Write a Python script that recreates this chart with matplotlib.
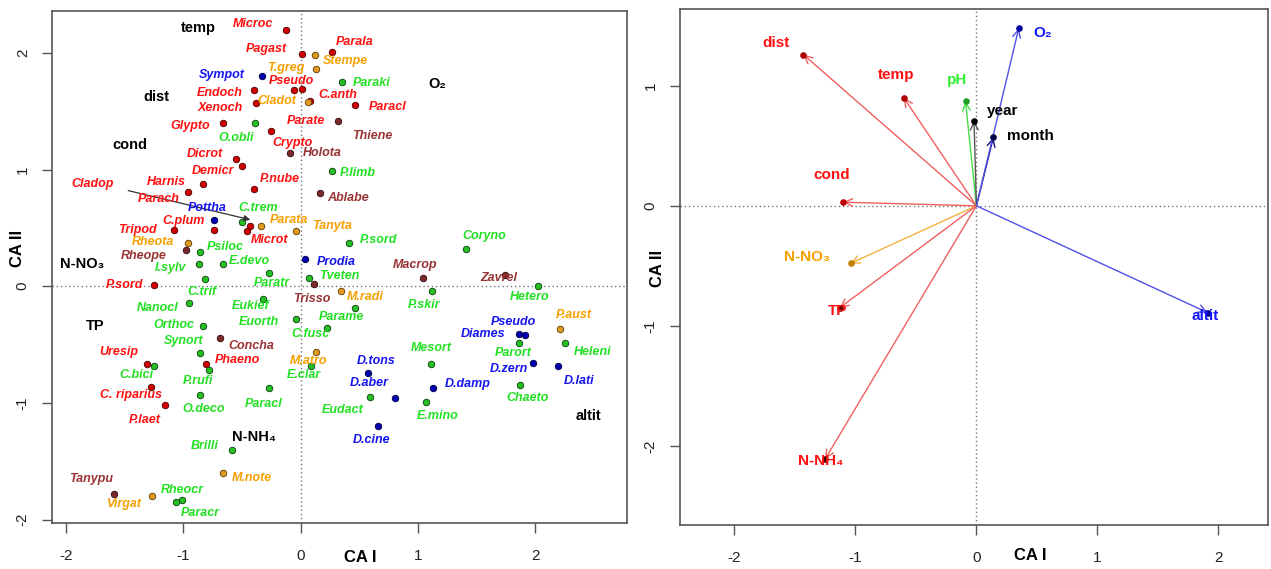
import matplotlib
matplotlib.use("Agg")
import matplotlib.pyplot as plt

plt.rcParams['font.family'] = ['Liberation Sans', 'DejaVu Sans']
plt.rcParams['axes.unicode_minus'] = False

# ---- left panel: species scores, grouped by colour ----
red_x = [-0.13, 0.01, 0.27, -0.06, 0.01, -0.40, 0.08, -0.38, 0.46, -0.66, -0.25, -0.55, -0.50,
         -0.40, -0.83, -0.96, -0.74, -1.08, -0.43, -0.46, -1.25, -1.31, -0.81, -1.28, -1.16]
red_y = [2.20, 1.99, 2.01, 1.68, 1.69, 1.68, 1.59, 1.57, 1.55, 1.40, 1.33, 1.09, 1.03,
         0.83, 0.88, 0.81, 0.48, 0.48, 0.52, 0.47, 0.01, -0.67, -0.67, -0.86, -1.02]
orange_x = [0.12, 0.13, 0.06, -0.34, -0.04, -0.96, 0.34, 0.13, 2.21, -0.66, -1.27]
orange_y = [1.98, 1.86, 1.58, 0.52, 0.47, 0.37, -0.04, -0.56, -0.37, -1.60, -1.80]
green_x = [0.35, -0.39, 0.27, -0.50, -0.86, -0.87, -0.66, -0.27, -0.82, 0.07,
           0.41, 1.41, 1.12, 2.02, -0.95, -0.32, 0.46, -0.83, -0.04, 0.22,
           -0.86, -0.78, -1.25, 0.09, -0.27, -0.86, 1.11, 1.86, 2.25, 1.87,
           0.59, 1.07, -0.59, -1.01, -1.06]
green_y = [1.75, 1.40, 0.99, 0.55, 0.29, 0.19, 0.19, 0.11, 0.06, 0.07,
           0.37, 0.32, -0.04, 0.00, -0.14, -0.11, -0.19, -0.34, -0.28, -0.36,
           -0.57, -0.72, -0.68, -0.68, -0.87, -0.93, -0.67, -0.49, -0.49, -0.85,
           -0.95, -0.99, -1.40, -1.83, -1.85]
blue_x = [-0.33, -0.74, 0.04, 1.86, 1.91, 1.98, 2.19, 0.57, 1.13, 0.80, 0.66]
blue_y = [1.80, 0.57, 0.23, -0.41, -0.42, -0.66, -0.68, -0.74, -0.87, -0.96, -1.20]
brown_x = [0.32, -0.09, 0.16, -0.98, 0.11, 1.04, 1.74, -0.69, -1.59]
brown_y = [1.42, 1.14, 0.80, 0.31, 0.02, 0.07, 0.10, -0.44, -1.78]

# species labels
red_names = ["Microc", "Pagast", "Parala", "Pseudo", "Endoch", "Xenoch", "C.anth", "Paracl",
             "Glypto", "Parate", "Crypto", "Dicrot", "Demicr", "P.nube", "Cladop", "Harnis",
             "Parach", "C.plum", "Tripod", "Microt", "P.sord", "Uresip", "Phaeno",
             "C. riparius", "P.laet"]
red_lx = [-0.41, -0.29, 0.46, -0.08, -0.69, -0.69, 0.32, 0.74, -0.94, 0.04, -0.07, -0.82, -0.75,
          -0.18, -1.77, -1.15, -1.21, -1.00, -1.39, -0.27, -1.50, -1.55, -0.54, -1.45, -1.33]
red_ly = [2.25, 2.03, 2.09, 1.76, 1.66, 1.53, 1.64, 1.54, 1.37, 1.42, 1.23, 1.13, 0.99,
          0.92, 0.88, 0.89, 0.75, 0.56, 0.48, 0.40, 0.01, -0.56, -0.63, -0.93, -1.15]
orange_names = ["T.greg", "Stempe", "Cladot", "Parata", "Tanyta", "Rheota", "M.radi", "M.atro",
                "P.aust", "M.note", "Virgat"]
orange_lx = [-0.13, 0.38, -0.20, -0.10, 0.27, -1.26, 0.55, 0.07, 2.33, -0.42, -1.50]
orange_ly = [1.87, 1.93, 1.59, 0.57, 0.52, 0.38, -0.09, -0.64, -0.25, -1.64, -1.87]
green_names = ["Paraki", "O.obli", "P.limb", "C.trem", "P.sord", "Psiloc", "E.devo", "I.sylv",
               "Tveten", "Coryno", "Paratr", "Hetero", "P.skir", "C.trif", "Nanocl", "Eukief",
               "Parame", "Orthoc", "Euorth", "C.fusc", "Synort", "Mesort", "Parort", "Heleni",
               "C.bici", "E.clar", "P.rufi", "Chaeto", "Paracl", "O.deco", "Eudact", "E.mino",
               "Brilli", "Rheocr", "Paracr"]
green_lx = [0.60, -0.55, 0.49, -0.36, 0.66, -0.64, -0.44, -1.11, 0.33, 1.56, -0.25, 1.95,
            1.05, -0.84, -1.22, -0.43, 0.35, -1.08, -0.36, 0.08, -1.00, 1.11, 1.81, 2.49,
            -1.40, 0.03, -0.88, 1.93, -0.32, -0.83, 0.36, 1.17, -0.82, -1.01, -0.86]
green_ly = [1.74, 1.27, 0.97, 0.67, 0.40, 0.34, 0.22, 0.16, 0.09, 0.43, 0.03, -0.09,
            -0.16, -0.05, -0.19, -0.17, -0.26, -0.33, -0.31, -0.41, -0.47, -0.53, -0.57, -0.56,
            -0.76, -0.76, -0.81, -0.96, -1.01, -1.05, -1.06, -1.11, -1.37, -1.75, -1.94]
blue_names = ["Sympot", "Pottha", "Prodia", "Pseudo", "Diames", "D.tons", "D.zern", "D.lati",
              "D.aber", "D.damp", "D.cine"]
blue_lx = [-0.67, -0.80, 0.30, 1.81, 1.55, 0.64, 1.77, 2.37, 0.58, 1.42, 0.60]
blue_ly = [1.81, 0.67, 0.21, -0.31, -0.41, -0.64, -0.71, -0.81, -0.83, -0.84, -1.32]
brown_names = ["Thiene", "Holota", "Ablabe", "Rheope", "Macrop", "Zavrel", "Trisso", "Concha",
               "Tanypu"]
brown_lx = [0.61, 0.18, 0.40, -1.34, 0.97, 1.69, 0.09, -0.42, -1.79]
brown_ly = [1.29, 1.14, 0.76, 0.26, 0.18, 0.07, -0.11, -0.51, -1.65]

# environmental variable names placed in the species plot
env_left_names = ["temp", "dist", "cond", "O\u2082", "N-NO\u2083", "TP", "N-NH\u2084", "altit"]
env_left_x = [-0.87, -1.23, -1.46, 1.16, -1.86, -1.75, -0.40, 2.45]
env_left_y = [2.21, 1.62, 1.21, 1.73, 0.19, -0.34, -1.29, -1.11]

# ---- right panel: environmental biplot arrows ----
env_names = ["dist", "temp", "pH", "year", "month", "O\u2082", "cond", "N-NO\u2083", "TP",
             "N-NH\u2084", "altit"]
env_x = [-1.43, -0.60, -0.09, -0.02, 0.14, 0.35, -1.10, -1.04, -1.13, -1.25, 1.91]
env_y = [1.26, 0.90, 0.87, 0.71, 0.57, 1.48, 0.03, -0.48, -0.85, -2.11, -0.89]
env_lx = [-1.66, -0.66, -0.16, 0.22, 0.45, 0.55, -1.20, -1.40, -1.15, -1.29, 1.89]
env_ly = [1.36, 1.09, 1.05, 0.79, 0.58, 1.44, 0.26, -0.43, -0.88, -2.13, -0.92]
env_line_col = ["#F06060", "#F06060", "#44DD44", "#555555", "#101080", "#5050E8", "#F06060",
                "#F5B040", "#F06060", "#F06060", "#5050E8"]
env_dot_col = ["#B00000", "#B00000", "#20A020", "#000000", "#000040", "#0000A0", "#C00000",
               "#C08000", "#600000", "#300000", "#000080"]
env_txt_col = ["#FF1010", "#FF1010", "#33EE33", "#000000", "#000000", "#1515FF", "#FF1010",
               "#F5A000", "#FF1010", "#FF1010", "#1515FF"]

fig = plt.figure(figsize=(12.71, 5.69), dpi=100)
ax1 = fig.add_axes([52 / 1271, 1 - 523 / 569, 575 / 1271, 512 / 569])
ax2 = fig.add_axes([680 / 1271, 1 - 525 / 569, 588 / 1271, 516 / 569])

groups = [
    (red_x, red_y, "#D00000", "#4a0000", red_names, red_lx, red_ly, "#FF1010"),
    (orange_x, orange_y, "#E09A20", "#5a3a00", orange_names, orange_lx, orange_ly, "#F5A000"),
    (green_x, green_y, "#22C022", "#0a3a0a", green_names, green_lx, green_ly, "#22E022"),
    (blue_x, blue_y, "#0000B0", "#000040", blue_names, blue_lx, blue_ly, "#1515EE"),
    (brown_x, brown_y, "#7A2A2A", "#300808", brown_names, brown_lx, brown_ly, "#993333"),
]

ax1.axhline(0, color="#777777", ls=(0, (1, 2)), lw=1, zorder=1)
ax1.axvline(0, color="#777777", ls=(0, (1, 2)), lw=1, zorder=1)
for px, py, fc, ec, names, lx, ly, tc in groups:
    ax1.scatter(px, py, s=22, c=fc, edgecolors=ec, linewidths=0.6, zorder=3)
    for n, x, y in zip(names, lx, ly):
        ax1.text(x, y, n, color=tc, fontsize=9, fontweight="bold", fontstyle="italic",
                 ha="center", va="center", zorder=4)
for n, x, y in zip(env_left_names, env_left_x, env_left_y):
    ax1.text(x, y, n, color="black", fontsize=10.5, fontweight="bold", ha="center", va="center")
ax1.annotate("", xy=(-0.43, 0.57), xytext=(-1.47, 0.82),
             arrowprops=dict(arrowstyle="-|>", color="#333333", lw=0.9, mutation_scale=9,
                             shrinkA=0, shrinkB=0))
ax1.set_xlim(-2.12, 2.78)
ax1.set_ylim(-2.03, 2.36)
ax1.set_xticks([-2, -1, 0, 1, 2])
ax1.set_yticks([-2, -1, 0, 1, 2])

ax2.axhline(0, color="#777777", ls=(0, (1, 2)), lw=1, zorder=1)
ax2.axvline(0, color="#777777", ls=(0, (1, 2)), lw=1, zorder=1)
for i in range(len(env_names)):
    ax2.annotate("", xy=(env_x[i], env_y[i]), xytext=(0, 0),
                 arrowprops=dict(arrowstyle="->", color=env_line_col[i], lw=1.0,
                                 mutation_scale=14, shrinkA=0, shrinkB=0), zorder=2)
    ax2.scatter([env_x[i]], [env_y[i]], s=14, c=env_dot_col[i], zorder=3)
    ax2.text(env_lx[i], env_ly[i], env_names[i], color=env_txt_col[i], fontsize=11,
             fontweight="bold", ha="center", va="center", zorder=4)
ax2.set_xlim(-2.45, 2.41)
ax2.set_ylim(-2.66, 1.64)
ax2.set_xticks([-2, -1, 0, 1, 2])
ax2.set_yticks([-2, -1, 0, 1])

for ax in (ax1, ax2):
    for s in ax.spines.values():
        s.set_color("#555555")
        s.set_linewidth(1.2)
    ax.tick_params(axis="both", direction="out", length=7, width=1, color="#555555",
                   labelsize=11, labelcolor="#222222")
    ax.tick_params(axis="x", pad=12)
    ax.tick_params(axis="y", pad=9, labelrotation=90)
    for lab in ax.get_yticklabels():
        lab.set_va("center")

fig.text(360 / 1271, 1 - 558 / 569, "CA I", fontsize=12, fontweight="bold", ha="center", va="center")
fig.text(18 / 1271, 1 - 248 / 569, "CA II", fontsize=12, fontweight="bold", rotation=90,
         ha="center", va="center")
fig.text(1030 / 1271, 1 - 555 / 569, "CA I", fontsize=12, fontweight="bold", ha="center", va="center")
fig.text(658 / 1271, 1 - 268 / 569, "CA II", fontsize=12, fontweight="bold", rotation=90,
         ha="center", va="center")

fig.savefig("out.png", dpi=100)
